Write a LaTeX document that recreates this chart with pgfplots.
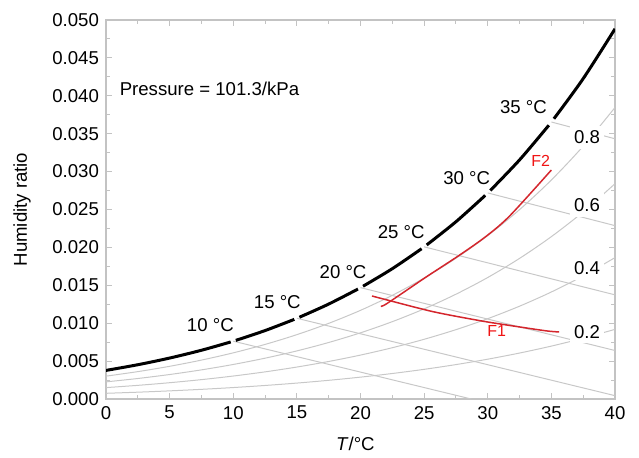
\documentclass[border=0pt]{standalone}
\usepackage{fontspec}
\setmainfont{Liberation Sans}
\usepackage{pgfplots}
\pgfplotsset{compat=1.18}
\definecolor{rhgray}{RGB}{200,200,200}
\definecolor{frame}{RGB}{195,195,195}
\definecolor{pathred}{RGB}{212,38,45}
\definecolor{labred}{RGB}{240,20,20}
\begin{document}
\begin{tikzpicture}[font=\fontsize{9.3}{11}\selectfont]
\begin{axis}[name=ax,
    scale only axis, width=254.5pt, height=189.5pt,
    xmin=0, xmax=40, ymin=0, ymax=0.05,
    xtick={0,5,...,40}, minor x tick num=1,
    ytick={0,0.005,...,0.0501}, minor y tick num=1,
    scaled y ticks=false,
    yticklabel style={/pgf/number format/.cd, fixed, fixed zerofill, precision=3},
    /pgf/number format/assume math mode=true,
    tick align=inside, tick pos=both,
    major tick length=3pt, minor tick length=2pt,
    axis line style={frame, line width=0.6pt},
    every tick/.style={frame, line width=0.5pt},
    ylabel={Humidity ratio},
    xlabel={\textit{T}/°C},
    every axis y label/.style={at={(axis description cs:-0.165,0.5)}, rotate=90, anchor=center},
    every axis x label/.style={at={(axis description cs:0.49,-0.119)}, anchor=center},
  ]
  % relative humidity curves 0.2 .. 0.8
  \addplot[rhgray, line width=0.5pt, smooth] coordinates {
    (0,0.000751)(2.5,0.000899)(5,0.001073)(7.5,0.001275)(10,0.001511)(12.5,0.001785)
    (15,0.002101)(17.5,0.002465)(20,0.002884)(22.5,0.003364)(25,0.003913)(27.5,0.004540)
    (30,0.005253)(32.5,0.006063)(35,0.006980)(37.5,0.008017)(40,0.009189)};
  \addplot[rhgray, line width=0.5pt, smooth] coordinates {
    (0,0.001503)(2.5,0.001801)(5,0.002149)(7.5,0.002556)(10,0.003030)(12.5,0.003580)
    (15,0.004216)(17.5,0.004950)(20,0.005794)(22.5,0.006765)(25,0.007877)(27.5,0.009147)
    (30,0.010596)(32.5,0.012245)(35,0.014119)(37.5,0.016245)(40,0.018654)};
  \addplot[rhgray, line width=0.5pt, smooth] coordinates {
    (0,0.002258)(2.5,0.002705)(5,0.003230)(7.5,0.003842)(10,0.004556)(12.5,0.005385)
    (15,0.006345)(17.5,0.007455)(20,0.008732)(22.5,0.010203)(25,0.011890)(27.5,0.013823)
    (30,0.016030)(32.5,0.018551)(35,0.021422)(37.5,0.024688)(40,0.028406)};
  \addplot[rhgray, line width=0.5pt, smooth] coordinates {
    (0,0.003014)(2.5,0.003612)(5,0.004313)(7.5,0.005133)(10,0.006089)(12.5,0.007200)
    (15,0.008489)(17.5,0.009979)(20,0.011697)(22.5,0.013678)(25,0.015956)(27.5,0.018568)
    (30,0.021559)(32.5,0.024983)(35,0.028894)(37.5,0.033360)(40,0.038460)};
  % wet-bulb lines
  \addplot[rhgray, line width=0.5pt] coordinates {(10,0.007630)(28.7,0)};
  \addplot[rhgray, line width=0.5pt] coordinates {(15,0.010647)(40,0.00044)};
  \addplot[rhgray, line width=0.5pt] coordinates {(20,0.014691)(40,0.006397)};
  \addplot[rhgray, line width=0.5pt] coordinates {(25,0.020073)(40,0.013739)};
  \addplot[rhgray, line width=0.5pt] coordinates {(30,0.027184)(40,0.022871)};
  \addplot[rhgray, line width=0.5pt] coordinates {(35,0.036542)(40,0.034331)};
  % saturation curve
  \addplot[black, line width=1.5pt, smooth] coordinates {(0,0.003772)(2.5,0.004522)(5,0.005401)(7.5,0.006430)(9.8,0.007526)};
  \addplot[black, line width=1.5pt, smooth] coordinates {(10.2,0.007734)(12.5,0.009027)(14.8,0.010507)};
  \addplot[black, line width=1.5pt, smooth] coordinates {(15.2,0.010787)(17.5,0.012524)(19.8,0.014504)};
  \addplot[black, line width=1.5pt, smooth] coordinates {(20.2,0.014878)(22.5,0.017192)(24.8,0.019825)};
  \addplot[black, line width=1.5pt, smooth] coordinates {(25.2,0.020321)(27.5,0.023384)(29.8,0.026858)};
  \addplot[black, line width=1.5pt, smooth] coordinates {(30.2,0.027510)(32.5,0.031546)(34.8,0.036113)};
  \addplot[black, line width=1.5pt, smooth] coordinates {(35.2,0.036971)(37.5,0.042266)(40,0.048830)};
  % processes F1, F2
  \addplot[pathred, line width=0.75pt, smooth] coordinates {
    (20.9,0.01359)(22.1,0.01306)(25.7,0.01152)(29.1,0.01042)(31.0,0.00989)(34.5,0.00901)(35.6,0.00885)};
  \addplot[pathred, line width=0.75pt, smooth] coordinates {
    (21.6,0.01225)(22.1,0.01262)(25.2,0.01614)(27.8,0.01900)(29.9,0.02150)(31.75,0.02420)(35.0,0.03021)};
  % labels
  \node[anchor=west, inner sep=0pt] at (axis cs:1.05,0.0409) {Pressure = 101.3/kPa};
  \node at (axis cs:8.2,0.00976) {10 °C};
  \node at (axis cs:13.46,0.01284) {15 °C};
  \node at (axis cs:18.63,0.0168) {20 °C};
  \node at (axis cs:23.2,0.02207) {25 °C};
  \node at (axis cs:28.35,0.02911) {30 °C};
  \node at (axis cs:32.8,0.03848) {35 °C};
  \node[fill=white, inner xsep=1.8pt, inner ysep=2.5pt] at (axis cs:37.8,0.03452) {0.8};
  \node[fill=white, inner xsep=1.8pt, inner ysep=2.5pt] at (axis cs:37.8,0.0256) {0.6};
  \node[fill=white, inner xsep=1.8pt, inner ysep=2.5pt] at (axis cs:37.8,0.01724) {0.4};
  \node[fill=white, inner xsep=1.8pt, inner ysep=2.5pt] at (axis cs:37.8,0.00888) {0.2};
  \node[labred, font=\fontsize{8}{9}\selectfont] at (axis cs:30.7,0.00901) {F1};
  \node[labred, font=\fontsize{8}{9}\selectfont] at (axis cs:34.16,0.03144) {F2};
\end{axis}
\path (ax.south west) +(-53pt,-29pt) (ax.north east) +(12pt,10pt);
\end{tikzpicture}
\end{document}
